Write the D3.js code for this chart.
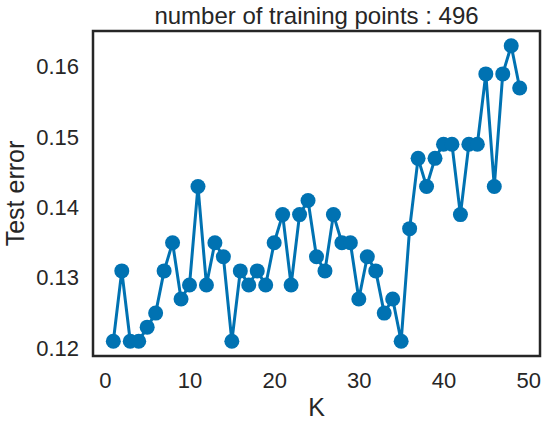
<!DOCTYPE html>
<html>
<head>
<meta charset="utf-8">
<script src="https://cdn.jsdelivr.net/npm/d3@7"></script>
<style>
body { margin: 0; background: #fff; }
text { font-family: "Liberation Sans", Arial, sans-serif; fill: #262626; }
</style>
</head>
<body>
<script>
var kValues = d3.range(1, 50);
var testError = [0.121, 0.131, 0.121, 0.121, 0.123, 0.125, 0.131, 0.135, 0.127, 0.129,
  0.143, 0.129, 0.135, 0.133, 0.121, 0.131, 0.129, 0.131, 0.129, 0.135,
  0.139, 0.129, 0.139, 0.141, 0.133, 0.131, 0.139, 0.135, 0.135, 0.127,
  0.133, 0.131, 0.125, 0.127, 0.121, 0.137, 0.147, 0.143, 0.147, 0.149,
  0.149, 0.139, 0.149, 0.149, 0.159, 0.143, 0.159, 0.163, 0.157];
var xTicks = [0, 10, 20, 30, 40, 50];
var yTicks = [0.12, 0.13, 0.14, 0.15, 0.16];
var titleText = "number of training points : 496";

var margin = {top: 31, right: 6, bottom: 71, left: 93},
    width = 546 - margin.left - margin.right,
    height = 427 - margin.top - margin.bottom;

var data = kValues.map(function(k, i) { return {k: k, e: testError[i]}; });

var x = d3.scaleLinear().domain([-1.4, 51.4]).range([0, width]);
var y = d3.scaleLinear().domain([0.1189, 0.1651]).range([height, 0]);

var svg = d3.select("body").append("svg")
    .attr("width", 546)
    .attr("height", 427);

var g = svg.append("g")
    .attr("transform", "translate(" + margin.left + "," + margin.top + ")");

var xAxis = d3.axisBottom(x).tickValues(xTicks).tickSize(0).tickPadding(16).tickFormat(d3.format("d"));
var yAxis = d3.axisLeft(y).tickValues(yTicks).tickSize(0).tickPadding(14).tickFormat(d3.format(".2f"));

g.append("g")
    .attr("transform", "translate(0," + height + ")")
    .call(xAxis)
    .call(function(s) { s.select(".domain").remove(); })
    .selectAll("text").attr("font-size", "22px").style("fill", "#262626");

g.append("g")
    .call(yAxis)
    .call(function(s) { s.select(".domain").remove(); })
    .selectAll("text").attr("font-size", "22px").style("fill", "#262626");

var line = d3.line()
    .x(function(d) { return x(d.k); })
    .y(function(d) { return y(d.e); });

g.append("path")
    .datum(data)
    .attr("fill", "none")
    .attr("stroke", "#0072b2")
    .attr("stroke-width", 3)
    .attr("stroke-linejoin", "round")
    .attr("d", line);

g.selectAll("circle")
    .data(data)
    .enter().append("circle")
    .attr("cx", function(d) { return x(d.k); })
    .attr("cy", function(d) { return y(d.e); })
    .attr("r", 7.5)
    .attr("fill", "#0072b2");

g.append("rect")
    .attr("width", width)
    .attr("height", height)
    .attr("fill", "none")
    .attr("stroke", "#262626")
    .attr("stroke-width", 2.5);

svg.append("text")
    .attr("x", margin.left + width / 2)
    .attr("y", 24)
    .attr("text-anchor", "middle")
    .attr("font-size", "24px")
    .text(titleText);

svg.append("text")
    .attr("x", margin.left + width / 2)
    .attr("y", 416)
    .attr("text-anchor", "middle")
    .attr("font-size", "25px")
    .text("K");

svg.append("text")
    .attr("transform", "translate(24," + (margin.top + height / 2) + ") rotate(-90)")
    .attr("text-anchor", "middle")
    .attr("font-size", "25px")
    .text("Test error");
</script>
</body>
</html>
